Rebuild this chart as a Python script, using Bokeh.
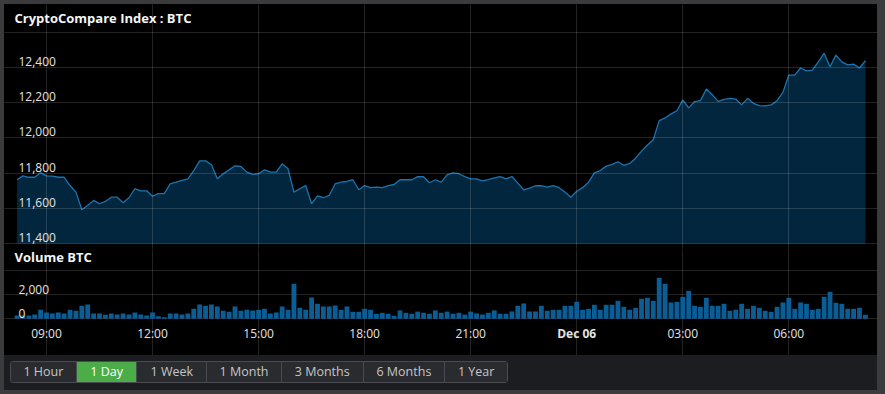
from datetime import datetime, timezone
from bokeh.plotting import figure
from bokeh.models import Label, Grid, FixedTicker, Div, Range1d, ColumnDataSource
from bokeh.layouts import column
from bokeh.embed import file_html
from bokeh.resources import INLINE

# ---------------- data ----------------
START_HOUR = 8
START_MIN = 10          # first sample 08:10, Dec 5
STEP_MIN = 10           # 10 minute samples

price = [
    11763, 11785, 11777, 11777, 11802, 11785, 11783, 11777, 11777, 11730,
    11693, 11593, 11619, 11646, 11627, 11640, 11664, 11664, 11633, 11661,
    11712, 11700, 11700, 11670, 11684, 11684, 11740, 11749, 11759, 11768,
    11815, 11870, 11870, 11848, 11768, 11797, 11819, 11842, 11838, 11806,
    11793, 11797, 11819, 11806, 11806, 11853, 11825, 11693, 11712, 11730,
    11627, 11672, 11661, 11674, 11740, 11749, 11753, 11763, 11706, 11730,
    11718, 11721, 11718, 11730, 11736, 11763, 11763, 11763, 11781, 11780,
    11746, 11763, 11749, 11791, 11802, 11797, 11781, 11768, 11768, 11757,
    11763, 11774, 11781, 11768, 11781, 11744, 11706, 11715, 11729, 11729,
    11721, 11729, 11718, 11693, 11664, 11698, 11718, 11749, 11802, 11815,
    11840, 11850, 11865, 11845, 11855, 11885, 11925, 11960, 11990, 12098,
    12113, 12136, 12154, 12215, 12170, 12205, 12211, 12277, 12245, 12207,
    12218, 12224, 12220, 12187, 12224, 12196, 12183, 12181, 12187, 12211,
    12258, 12356, 12356, 12396, 12380, 12384, 12431, 12480, 12403, 12469,
    12431, 12414, 12418, 12396, 12437,
]

volume = [
    278, 278, 278, 361, 750, 528, 444, 528, 444, 750,
    667, 1083, 1194, 444, 444, 333, 444, 361, 444, 361,
    528, 361, 278, 528, 222, 139, 444, 444, 361, 444,
    833, 1194, 1083, 1194, 1028, 667, 583, 1028, 667, 750,
    694, 750, 833, 444, 528, 1028, 750, 2917, 917, 750,
    1778, 1250, 1028, 1028, 1111, 750, 1028, 583, 583, 833,
    750, 417, 500, 417, 250, 694, 500, 420, 600, 500,
    420, 700, 500, 600, 420, 500, 350, 600, 450, 350,
    500, 700, 417, 417, 611, 1083, 1278, 611, 611, 1083,
    667, 750, 750, 1083, 1083, 1417, 750, 833, 1167, 750,
    1167, 1167, 1500, 1000, 750, 917, 1667, 1750, 1500, 3417,
    2917, 1361, 1417, 1833, 2333, 1083, 1000, 1750, 1083, 1083,
    1250, 667, 750, 1250, 833, 1083, 917, 667, 583, 1000,
    1361, 1750, 833, 1361, 1250, 750, 833, 1833, 2250, 1333,
    1250, 833, 833, 917, 333,
]

price_ticks = [11400, 11600, 11800, 12000, 12200, 12400]
price_labels = ["11,400", "11,600", "11,800", "12,000", "12,200", "12,400"]
price_grid = [11400, 11600, 11800, 12000, 12200, 12400, 12600]
vol_ticks = [0, 2000]
vol_labels = ["0", "2,000"]
vol_grid = [0, 2000, 4000]
x_tick_hours = [9, 12, 15, 18, 21, 24, 27, 30]     # hours after Dec 5 00:00
x_tick_labels = ["09:00", "12:00", "15:00", "18:00", "21:00", "Dec 06", "03:00", "06:00"]
buttons = ["1 Hour", "1 Day", "1 Week", "1 Month", "3 Months", "6 Months", "1 Year"]
active_button = "1 Day"

# ---------------- scales (pixel geometry) ----------------
BASE = datetime(2017, 12, 5, tzinfo=timezone.utc).timestamp() * 1000.0
MIN = 60000.0
HOUR = 60 * MIN
t = [BASE + (START_HOUR * 60 + START_MIN + STEP_MIN * i) * MIN for i in range(len(price))]
x_ticks = [BASE + h * HOUR for h in x_tick_hours]

W = 873                       # panel width (px)
PX_PER_H = 35.348
X_START = BASE + (9 - 42 / PX_PER_H) * HOUR
X_END = X_START + W / PX_PER_H * HOUR
GRID_X0 = X_START + 10 / PX_PER_H * HOUR     # plot-area left edge
GRID_X1 = X_START + 864 / PX_PER_H * HOUR    # plot-area right edge

H_PRICE = 245
H_VOL = 106
P_MIN, P_MAX = 11400, 12600
P_UNITS_PER_PX = 200 / 35.3
P_LO = P_MIN - (H_PRICE - 239.3) * P_UNITS_PER_PX
P_HI = P_MIN + 239.3 * P_UNITS_PER_PX

V_MIN, V_MAX = 0, 4000
V_UNITS_PER_PX = 2000 / 24
V_LO = V_MIN - 36.7 * V_UNITS_PER_PX
V_HI = V_MIN + (H_VOL - 36.7) * V_UNITS_PER_PX

FONT = "Open Sans"
BG = "#000000"
GRID = "rgba(255,255,255,0.14)"
TXT = "#e4e4e4"

src = ColumnDataSource(dict(t=t, price=price, volume=volume))


def base_fig(height, y0, y1):
    f = figure(width=W, height=height, output_backend="svg", toolbar_location=None,
               x_axis_type=None, y_axis_type=None,
               x_range=Range1d(X_START, X_END), y_range=Range1d(y0, y1),
               min_border=0, min_border_left=0, min_border_right=0,
               min_border_top=0, min_border_bottom=0,
               background_fill_color=BG, border_fill_color=BG,
               outline_line_color=BG)
    f.outline_line_alpha = 0
    f.outline_line_width = 0
    return f


# ---------------- price panel ----------------
p = base_fig(H_PRICE, P_LO, P_HI)
p.varea(x="t", y1=P_MIN, y2="price", source=src, fill_color="#02263d")
p.line(x="t", y="price", source=src, line_color="#1b74b0", line_width=1.3)
p.add_layout(Grid(dimension=0, ticker=FixedTicker(ticks=x_ticks), bounds=(P_MIN, P_MAX),
                  grid_line_color=GRID, level="overlay"), "center")
p.add_layout(Grid(dimension=1, ticker=FixedTicker(ticks=price_grid), bounds=(GRID_X0, GRID_X1),
                  grid_line_color=GRID, level="overlay"), "center")
p.add_layout(Label(x=GRID_X0, y=P_MAX, y_offset=14, text="CryptoCompare Index : BTC",
                   text_font=FONT, text_font_size="13px", text_font_style="bold",
                   text_color="#f5f5f5", text_baseline="alphabetic"))
for v, s in zip(price_ticks, price_labels):
    p.add_layout(Label(x=GRID_X0, y=v, x_offset=4, y_offset=6, text=s, text_font=FONT,
                       text_font_size="12px", text_color=TXT, text_baseline="alphabetic"))

# ---------------- volume panel ----------------
q = base_fig(H_VOL, V_LO, V_HI)
q.add_layout(Grid(dimension=0, ticker=FixedTicker(ticks=x_ticks), bounds=(V_MIN, V_MAX),
                  grid_line_color=GRID), "center")
q.add_layout(Grid(dimension=1, ticker=FixedTicker(ticks=vol_grid), bounds=(GRID_X0, GRID_X1),
                  grid_line_color=GRID), "center")
q.vbar(x="t", top="volume", bottom=0, width=STEP_MIN * MIN * 0.82, source=src,
       fill_color="#0b5d96", line_color=None)
q.add_layout(Label(x=GRID_X0, y=V_MAX, y_offset=14, text="Volume BTC",
                   text_font=FONT, text_font_size="13px", text_font_style="bold",
                   text_color="#f5f5f5", text_baseline="alphabetic"))
for v, s in zip(vol_ticks, vol_labels):
    q.add_layout(Label(x=GRID_X0, y=v, x_offset=4, y_offset=5.5, text=s, text_font=FONT,
                       text_font_size="12px", text_color=TXT, text_baseline="alphabetic"))
for xv, s in zip(x_ticks, x_tick_labels):
    q.add_layout(Label(x=xv, y=V_MIN, y_offset=-14.4, text=s, text_font=FONT,
                       text_font_size="12px", text_color=TXT, text_align="center",
                       text_baseline="alphabetic",
                       text_font_style="bold" if s.startswith("Dec") else "normal"))

# ---------------- range selector buttons ----------------
widths = [66, 61, 70, 75, 82, 82, 62]
cells = []
for i, (b, w) in enumerate(zip(buttons, widths)):
    active = b == active_button
    border = "border-right:1px solid #4a4b50;" if i < len(buttons) - 1 else ""
    cells.append(
        f'<div style="box-sizing:border-box;width:{w}px;height:20px;line-height:20px;'
        f'text-align:center;{border}background:{"#4aad48" if active else "#2a2b2f"};'
        f'color:{"#ffffff" if active else "#c6c6c6"};">{b}</div>'
    )
html = ('<div style="display:flex;margin:6px 0 0 6px;border:1px solid #4a4b50;border-radius:3px;'
        'overflow:hidden;width:498px;font-family:\'Open Sans\';font-size:12.5px;">'
        + "".join(cells) + "</div>")
d = Div(text=html, width=W, height=35, margin=0,
        styles={"background-color": "#1c1d20"})

root = column(p, q, d, spacing=0, margin=(4, 8, 4, 4),
              styles={"box-shadow": "0 0 0 40px #3b3b3e", "background-color": "#000000"})

open("out.html", "w").write(file_html(root, INLINE))
